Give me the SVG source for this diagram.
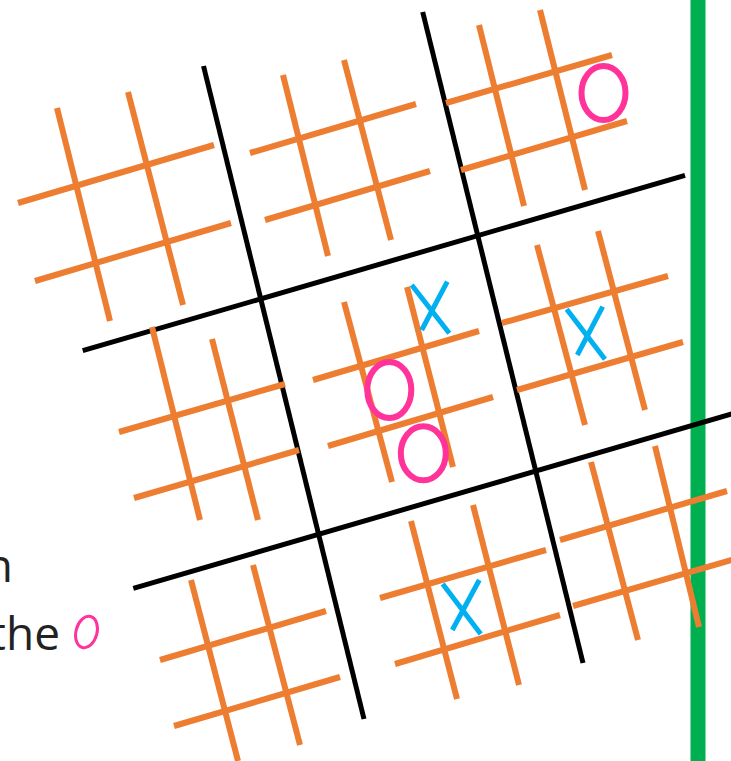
<svg xmlns="http://www.w3.org/2000/svg" width="731" height="761" viewBox="0 0 731 761">
<style>
.g{stroke:#ED7D31;stroke-width:6;fill:none}
.b{stroke:#000;stroke-width:5;fill:none}
.x{stroke:#00B0F0;stroke-width:5;fill:none}
.o{stroke:#FF3399;stroke-width:6;fill:none}
.t{font-family:"Open Sans","Noto Sans",sans-serif;font-size:46px;fill:#222}
</style>
<rect width="731" height="761" fill="#fff"/>
<line id="green-line" x1="698" y1="0" x2="698" y2="761" stroke="#00B050" stroke-width="15"/>
<g id="big-grid">
<line class="b" x1="203.5" y1="66" x2="364" y2="719"/>
<line class="b" x1="422.7" y1="12" x2="583" y2="663"/>
<line class="b" x1="82.7" y1="350.7" x2="685" y2="175.3"/>
<line class="b" x1="133.3" y1="588.3" x2="735" y2="413"/>
</g>
<g id="board-r0c0">
<line class="g" x1="57" y1="108" x2="110" y2="321"/>
<line class="g" x1="128" y1="92" x2="183" y2="305"/>
<line class="g" x1="18" y1="203" x2="214" y2="145"/>
<line class="g" x1="35" y1="281" x2="231" y2="223"/>
</g>
<g id="board-r0c1">
<line class="g" x1="283" y1="75" x2="328" y2="256"/>
<line class="g" x1="344" y1="60" x2="391" y2="240"/>
<line class="g" x1="250" y1="153" x2="416" y2="104"/>
<line class="g" x1="265" y1="220" x2="430" y2="171"/>
</g>
<g id="board-r0c2">
<line class="g" x1="479" y1="25" x2="524" y2="206"/>
<line class="g" x1="540" y1="10" x2="585" y2="190"/>
<line class="g" x1="446" y1="103" x2="612" y2="55"/>
<line class="g" x1="461" y1="170" x2="627" y2="121"/>
<ellipse class="o" cx="603.5" cy="93" rx="22" ry="27"/>
</g>
<g id="board-r1c0">
<line class="g" x1="152" y1="327" x2="200" y2="520"/>
<line class="g" x1="212" y1="339" x2="258" y2="520"/>
<line class="g" x1="119" y1="432" x2="285" y2="384"/>
<line class="g" x1="134" y1="498" x2="299" y2="450"/>
</g>
<g id="board-r1c1">
<line class="g" x1="344" y1="302" x2="392" y2="482"/>
<line class="g" x1="407" y1="287" x2="453" y2="467"/>
<line class="g" x1="313" y1="380" x2="479" y2="331"/>
<line class="g" x1="328" y1="446" x2="493" y2="397"/>
<line class="x" x1="411.7" y1="285" x2="449.3" y2="333.3"/>
<line class="x" x1="447.3" y1="281.7" x2="421.7" y2="330"/>
<ellipse class="o" cx="389.3" cy="390" rx="22" ry="28"/>
<ellipse class="o" cx="423.3" cy="453.3" rx="22.5" ry="27"/>
</g>
<g id="board-r1c2">
<line class="g" x1="537" y1="245" x2="585" y2="425"/>
<line class="g" x1="598" y1="231" x2="645" y2="410"/>
<line class="g" x1="502" y1="323" x2="668" y2="276"/>
<line class="g" x1="517" y1="390" x2="683" y2="342"/>
<line class="x" x1="566.7" y1="309.3" x2="605" y2="359.3"/>
<line class="x" x1="602.7" y1="306.7" x2="577.3" y2="355"/>
</g>
<g id="board-r2c0">
<line class="g" x1="191" y1="580" x2="238" y2="761"/>
<line class="g" x1="253" y1="565" x2="300" y2="745"/>
<line class="g" x1="160" y1="660" x2="326" y2="611"/>
<line class="g" x1="174" y1="726" x2="340" y2="677"/>
</g>
<g id="board-r2c1">
<line class="g" x1="411" y1="521" x2="457" y2="699"/>
<line class="g" x1="473" y1="505" x2="519" y2="685"/>
<line class="g" x1="380" y1="598" x2="546" y2="550"/>
<line class="g" x1="395" y1="664" x2="560" y2="615"/>
<line class="x" x1="442.7" y1="584" x2="480.7" y2="634"/>
<line class="x" x1="479.3" y1="580" x2="452.3" y2="630"/>
</g>
<g id="board-r2c2">
<line class="g" x1="591" y1="462" x2="638" y2="640"/>
<line class="g" x1="655" y1="446" x2="699" y2="627"/>
<line class="g" x1="560" y1="540" x2="727" y2="491"/>
<line class="g" x1="573" y1="606" x2="735" y2="559"/>
</g>
<g id="caption">
<text class="t" x="13" y="582" text-anchor="end">n</text>
<text class="t" x="60" y="650" text-anchor="end">the</text>
<ellipse cx="86.5" cy="632" rx="10.5" ry="16" transform="rotate(15 86.5 632)" stroke="#FF3399" stroke-width="3" fill="none"/>
</g>
</svg>
